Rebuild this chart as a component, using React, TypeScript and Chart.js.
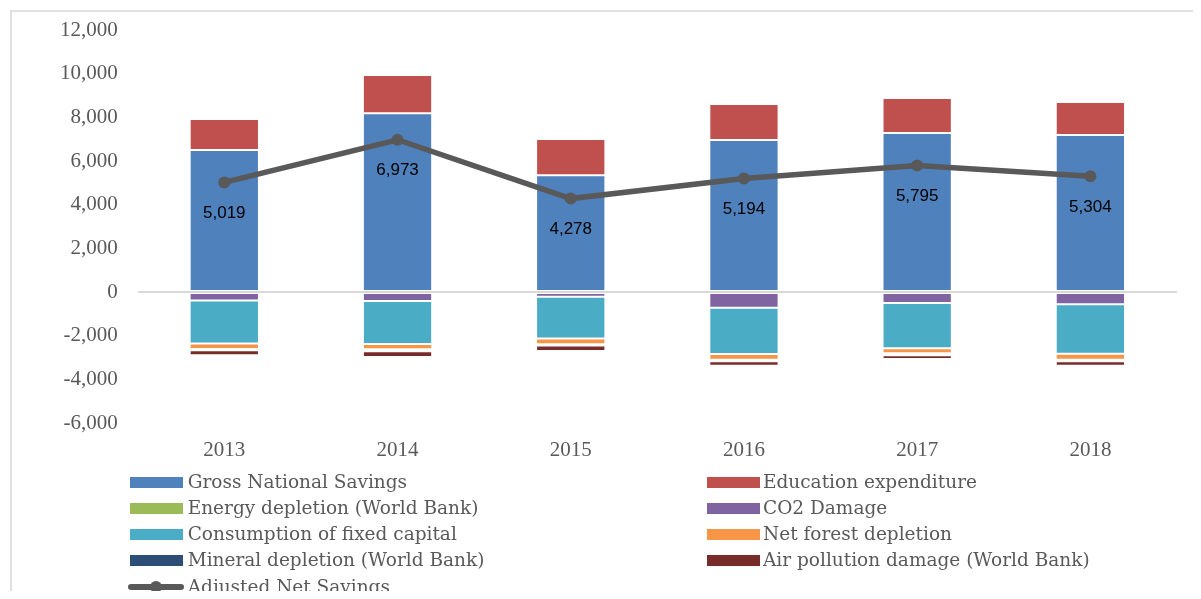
import React, { useEffect, useRef } from "react";
import { Chart, registerables } from "chart.js";

Chart.register(...registerables);

// ---------- data ----------
const years = ["2013", "2014", "2015", "2016", "2017", "2018"];
const grossNationalSavings = [6500, 8190, 5350, 6960, 7280, 7190];
const educationExpenditure = [1424, 1749, 1658, 1651, 1606, 1512];
const energyDepletion = [0, 0, 0, 0, 0, 0];
const co2Damage = [-390, -410, -215, -720, -500, -565];
const consumptionFixedCapital = [-1970, -1970, -1920, -2120, -2075, -2260];
const netForestDepletion = [-245, -245, -260, -260, -230, -275];
const mineralDepletion = [-60, -90, -60, -75, -90, -75];
const airPollutionDamage = [-230, -260, -245, -200, -170, -200];
const adjustedNetSavings = [5019, 6973, 4278, 5194, 5795, 5304];
const yMin = -6000;
const yMax = 12000;
const yStep = 2000;

const barSeries = [
  { name: "Gross National Savings", color: "#4F81BD", data: grossNationalSavings },
  { name: "Education expenditure", color: "#C0504D", data: educationExpenditure },
  { name: "Energy depletion (World Bank)", color: "#9BBB59", data: energyDepletion },
  { name: "CO2 Damage", color: "#8064A2", data: co2Damage },
  { name: "Consumption of fixed capital", color: "#4BACC6", data: consumptionFixedCapital },
  { name: "Net forest depletion", color: "#F79646", data: netForestDepletion },
  { name: "Mineral depletion (World Bank)", color: "#2C4D75", data: mineralDepletion },
  { name: "Air pollution damage (World Bank)", color: "#772C2A", data: airPollutionDamage },
];
const lineName = "Adjusted Net Savings";
const lineColor = "#595959";

const fmt = (v: number) => v.toLocaleString("en-US");

const ansLabelPlugin = {
  id: "ansLabels",
  afterDatasetsDraw(chart: any) {
    const idx = chart.data.datasets.findIndex((d: any) => d.type === "line");
    if (idx < 0) return;
    const meta = chart.getDatasetMeta(idx);
    const ctx = chart.ctx;
    ctx.save();
    ctx.font = '17px "Liberation Sans", Arial, sans-serif';
    ctx.fillStyle = "#000000";
    ctx.textAlign = "center";
    ctx.textBaseline = "middle";
    meta.data.forEach((pt: any, i: number) => {
      const v = chart.data.datasets[idx].data[i] as number;
      ctx.fillText(fmt(v), pt.x, pt.y + 31);
    });
    ctx.restore();
  },
};

export default function App() {
  const ref = useRef<HTMLCanvasElement>(null);

  useEffect(() => {
    if (!ref.current) return;
    const datasets: any[] = barSeries.map((s) => ({
      type: "bar",
      label: s.name,
      data: s.data,
      backgroundColor: s.color,
      borderColor: "rgba(255,255,255,0.45)",
      borderWidth: 1,
      borderSkipped: false,
      stack: "bars",
      order: 1,
      barPercentage: 0.4,
      categoryPercentage: 1,
    }));
    datasets.push({
      type: "line",
      label: lineName,
      data: adjustedNetSavings,
      borderColor: lineColor,
      backgroundColor: lineColor,
      borderWidth: 5.5,
      pointRadius: 6,
      pointBorderWidth: 0,
      pointBackgroundColor: lineColor,
      tension: 0,
      stack: "line",
      order: 0,
    });

    const chart = new Chart(ref.current, {
      type: "bar",
      data: { labels: years, datasets },
      options: {
        responsive: false,
        animation: false,
        devicePixelRatio: 1,
        events: [],
        layout: { padding: { top: 22, left: 0, right: 16, bottom: 128 } },
        plugins: {
          legend: { display: false },
          tooltip: { enabled: false },
          title: { display: false },
        },
        scales: {
          x: {
            stacked: true,
            grid: { display: false, drawTicks: false },
            border: { display: false },
            ticks: {
              color: "#595959",
              font: { family: '"Liberation Serif", serif', size: 21 },
              padding: 15,
            },
            afterFit: (scale: any) => {
              scale.height = 40;
            },
          },
          y: {
            stacked: true,
            min: yMin,
            max: yMax,
            border: { display: false },
            grid: {
              drawTicks: true,
              tickLength: 20,
              tickColor: "rgba(0,0,0,0)",
              color: (c: any) => (c.tick && c.tick.value === 0 ? "#d9d9d9" : "rgba(0,0,0,0)"),
              lineWidth: 2,
            },
            ticks: {
              stepSize: yStep,
              color: "#595959",
              font: { family: '"Liberation Serif", serif', size: 21 },
              padding: 0,
              callback: (v: any) => fmt(Number(v)),
            },
            afterFit: (scale: any) => {
              scale.width = 129.7;
            },
          },
        },
      } as any,
      plugins: [ansLabelPlugin],
    });
    return () => chart.destroy();
  }, []);

  const legendFont = '"DejaVu Serif", serif';
  const rowTop = (r: number) => 474 + 26.2 * r - 11;
  const cols = [
    { box: 122, text: 179.7 },
    { box: 699, text: 755 },
  ];

  return (
    <div style={{ position: "relative", width: 1185, height: 591, marginBottom: -8 }}>
      <div style={{ position: "absolute", left: 0, top: 0, width: 1185, height: 591, overflow: "hidden" }}>
        <div
          style={{
            position: "absolute",
            left: 2,
            top: 2,
            width: 3000,
            height: 3000,
            border: "2px solid #e0e0e0",
            boxSizing: "border-box",
          }}
        />
      </div>
      <canvas
        ref={ref}
        width={1185}
        height={583}
        style={{ position: "absolute", left: 0, top: 0 }}
      />
      {barSeries.map((s, i) => {
        const col = cols[i % 2];
        const row = Math.floor(i / 2);
        return (
          <div
            key={s.name}
            style={{
              position: "absolute",
              left: col.box,
              top: rowTop(row),
              height: 22,
              display: "flex",
              alignItems: "center",
              whiteSpace: "nowrap",
            }}
          >
            <div style={{ width: 53, height: 11, background: s.color }} />
            <span
              style={{
                marginLeft: col.text - col.box - 53,
                fontFamily: legendFont,
                fontSize: 18.5,
                lineHeight: 1,
                color: "#595959",
              }}
            >
              {s.name}
            </span>
          </div>
        );
      })}
      <div
        style={{
          position: "absolute",
          left: 120,
          top: rowTop(4),
          height: 22,
          display: "flex",
          alignItems: "center",
          whiteSpace: "nowrap",
        }}
      >
        <div style={{ position: "relative", width: 56, height: 22 }}>
          <div
            style={{
              position: "absolute",
              left: 0,
              top: 8,
              width: 56,
              height: 6,
              borderRadius: 3,
              background: lineColor,
            }}
          />
          <div
            style={{
              position: "absolute",
              left: 22,
              top: 5,
              width: 12,
              height: 12,
              borderRadius: 6,
              background: lineColor,
            }}
          />
        </div>
        <span
          style={{
            marginLeft: 179.7 - 120 - 56,
            fontFamily: legendFont,
            fontSize: 18.5,
            lineHeight: 1,
            color: "#595959",
          }}
        >
          {lineName}
        </span>
      </div>
    </div>
  );
}
